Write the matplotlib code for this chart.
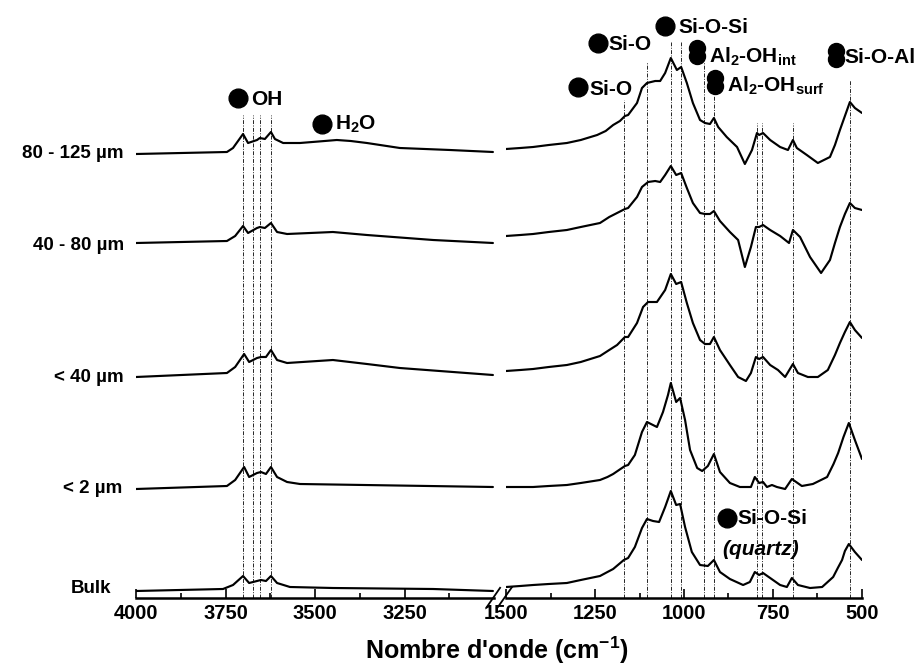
import matplotlib
matplotlib.use('Agg')
import matplotlib.pyplot as plt
import matplotlib.transforms as mtransforms

plt.rcParams['font.family'] = ['Liberation Sans', 'DejaVu Sans']
plt.rcParams['font.weight'] = 'bold'
plt.rcParams['mathtext.fontset'] = 'custom'
plt.rcParams['mathtext.rm'] = 'Liberation Sans:bold'
plt.rcParams['mathtext.it'] = 'Liberation Sans:bold:italic'
plt.rcParams['mathtext.bf'] = 'Liberation Sans:bold'
plt.rcParams['mathtext.sf'] = 'Liberation Sans:bold'

# ---------------- data ----------------
samples = ['80 - 125 µm', '40 - 80 µm', '< 40 µm', '< 2 µm', 'Bulk']
offsets = [444, 355, 221, 109, 7]

# 80 - 125 um
s1_hi_wn = [4000, 3746, 3729, 3701, 3687, 3662, 3654, 3640, 3623, 3612, 3589, 3542, 3490, 3439, 3400, 3355, 3263,
            3123, 3003]
s1_hi_ab = [0, 2, 6, 20, 11, 14, 16, 15, 22, 15, 11, 11, 12.5, 14, 13, 11, 6, 4, 2]
s1_lo_wn = [1500, 1460, 1424, 1380, 1329, 1290, 1244, 1220, 1199, 1180, 1166, 1157, 1132, 1118, 1104, 1081, 1067,
            1053, 1037, 1020, 1008, 992, 975, 955, 941, 927, 916, 904, 880, 851, 829, 809, 795, 789, 778, 758, 730,
            708, 694, 683, 655, 624, 590, 576, 562, 548, 534, 520, 500]
s1_lo_ab = [5, 6, 7, 9, 11, 14, 19, 23, 29, 33, 38, 39, 51, 66, 71, 73, 73, 81, 96, 84, 87, 71, 51, 34, 31, 30, 36,
            27, 17, 7, -10, 4, 21, 19, 21, 14, 7, 4, 14, 6, -1, -9, -3, 9, 24, 38, 52, 46, 41]

# 40 - 80 um
s2_hi_wn = [4000, 3746, 3723, 3701, 3687, 3662, 3654, 3640, 3623, 3606, 3578, 3450, 3355, 3170, 3003]
s2_hi_ab = [0, 2, 7, 17, 10, 15, 16, 15, 20, 11, 9, 11, 8, 3, 0]
s2_lo_wn = [1500, 1460, 1424, 1380, 1329, 1290, 1236, 1210, 1188, 1166, 1157, 1132, 1118, 1101, 1081, 1067, 1053,
            1037, 1022, 1008, 992, 975, 955, 941, 927, 916, 899, 871, 848, 829, 812, 798, 789, 778, 758, 730, 705,
            694, 674, 646, 615, 590, 576, 562, 548, 534, 520, 500]
s2_lo_ab = [7, 8, 9, 11, 13, 16, 20, 26, 30, 34, 35, 46, 56, 61, 62, 61, 68, 77, 68, 70, 55, 40, 30, 29, 29, 32, 22,
            11, 3, -24, -4, 16, 16, 18, 13, 7, 0, 13, 6, -14, -30, -17, 0, 16, 29, 40, 35, 33]

# < 40 um
s3_hi_wn = [4000, 3746, 3723, 3698, 3684, 3662, 3651, 3637, 3623, 3606, 3578, 3450, 3355, 3263, 3003]
s3_hi_ab = [0, 4, 10, 23, 15, 19, 20, 20, 27, 17, 14, 17, 13, 9, 2]
s3_lo_wn = [1500, 1460, 1424, 1380, 1329, 1290, 1236, 1210, 1188, 1166, 1157, 1132, 1115, 1101, 1076, 1053, 1037,
            1022, 1008, 992, 975, 955, 941, 927, 916, 899, 871, 848, 826, 812, 798, 789, 778, 758, 736, 716, 694,
            680, 652, 624, 596, 576, 562, 548, 534, 520, 500]
s3_lo_ab = [6, 7, 8, 10, 12, 15, 21, 27, 32, 40, 40, 54, 70, 75, 75, 87, 103, 93, 95, 74, 54, 37, 33, 33, 40, 27, 12,
            0, -4, 4, 20, 18, 20, 12, 7, 0, 13, 4, 0, 0, 7, 22, 34, 45, 55, 47, 39]

# < 2 um
s4_hi_wn = [4000, 3746, 3723, 3698, 3684, 3662, 3651, 3637, 3623, 3606, 3578, 3542, 3003]
s4_hi_ab = [0, 3, 9, 22, 12, 16, 17, 15, 22, 12, 7, 5, 2]
s4_lo_wn = [1500, 1460, 1424, 1380, 1329, 1290, 1236, 1215, 1199, 1166, 1157, 1138, 1118, 1104, 1076, 1059, 1045,
            1037, 1022, 1011, 997, 983, 963, 949, 933, 916, 899, 871, 843, 812, 801, 789, 778, 767, 753, 739, 716,
            697, 669, 638, 598, 580, 567, 552, 537, 520, 500]
s4_lo_ab = [2, 2, 2, 3, 4, 6, 9, 12, 15, 23, 24, 34, 57, 67, 62, 77, 94, 106, 87, 91, 69, 39, 21, 18, 23, 35, 17, 6,
            2, 2, 12, 6, 7, 2, 4, 2, 0, 10, 3, 5, 12, 25, 36, 52, 66, 49, 30]

# Bulk
s5_hi_wn = [4000, 3757, 3729, 3701, 3684, 3662, 3651, 3637, 3623, 3606, 3570, 3450, 3170, 3003]
s5_hi_ab = [0, 2, 6, 15, 8, 10, 11, 10, 15, 8, 4, 3, 2, 0]
s5_lo_wn = [1500, 1460, 1424, 1380, 1329, 1290, 1236, 1215, 1199, 1169, 1157, 1138, 1118, 1104, 1087, 1070, 1053,
            1037, 1022, 1011, 997, 978, 955, 933, 916, 899, 871, 834, 815, 801, 789, 778, 758, 730, 711, 697, 680,
            646, 612, 581, 568, 556, 548, 537, 520, 500]
s5_lo_ab = [4, 5, 6, 7, 8, 11, 15, 19, 22, 31, 33, 44, 63, 72, 70, 69, 84, 100, 86, 87, 64, 39, 26, 25, 31, 19, 12,
            6, 9, 19, 16, 18, 13, 6, 4, 13, 6, 3, 4, 14, 23, 31, 40, 47, 39, 31]

hi_wn = [s1_hi_wn, s2_hi_wn, s3_hi_wn, s4_hi_wn, s5_hi_wn]
hi_ab = [s1_hi_ab, s2_hi_ab, s3_hi_ab, s4_hi_ab, s5_hi_ab]
lo_wn = [s1_lo_wn, s2_lo_wn, s3_lo_wn, s4_lo_wn, s5_lo_wn]
lo_ab = [s1_lo_ab, s2_lo_ab, s3_lo_ab, s4_lo_ab, s5_lo_ab]

# band positions (cm-1) and heights of the guide lines
oh_bands = [3700, 3672, 3655, 3622]
oh_tops = [483, 483, 483, 483]
lo_bands = [1169, 1104, 1037, 1009, 944, 916, 795, 781, 694, 534]
lo_tops = [498, 536, 556, 556, 536, 503, 475, 475, 475, 518]

hi_ticks = [4000, 3750, 3500, 3250]
hi_minor = [3875, 3625, 3375, 3125]
lo_ticks = [1500, 1250, 1000, 750, 500]
lo_minor = [1375, 1125, 875, 625]

# ---------------- figure ----------------
W, H = 920, 666
fig = plt.figure(figsize=(W / 100, H / 100), dpi=100)
ax1 = fig.add_axes([136 / W, 68 / H, 358 / W, 598 / H])
ax2 = fig.add_axes([506 / W, 68 / H, 356 / W, 598 / H])

for ax, lim, maj, mnr in [(ax1, (4000, 3000), hi_ticks, hi_minor), (ax2, (1500, 500), lo_ticks, lo_minor)]:
    ax.set_xlim(*lim)
    ax.set_ylim(0, 598)
    ax.patch.set_alpha(0)
    for s in ['left', 'right', 'top']:
        ax.spines[s].set_visible(False)
    ax.spines['bottom'].set_linewidth(1.8)
    ax.set_yticks([])
    ax.set_xticks(maj)
    ax.set_xticks(mnr, minor=True)
    ax.tick_params(axis='x', which='major', direction='in', length=6.5, width=1.2, labelsize=14.5, pad=4)
    ax.tick_params(axis='x', which='minor', direction='in', length=3.6, width=1.2)
    for lab in ax.get_xticklabels():
        lab.set_fontweight('bold')

guide = dict(color='0.15', lw=0.7, linestyle=(0, (4, 1.5, 1, 1.5)), zorder=1)
for b, t in zip(oh_bands, oh_tops):
    ax1.plot([b, b], [0, t], **guide)
for b, t in zip(lo_bands, lo_tops):
    ax2.plot([b, b], [0, t], **guide)

for i in range(len(samples)):
    ax1.plot(hi_wn[i], [v + offsets[i] for v in hi_ab[i]], color='black', lw=1.55, zorder=3,
             solid_joinstyle='round', solid_capstyle='round')
    ax2.plot(lo_wn[i], [v + offsets[i] for v in lo_ab[i]], color='black', lw=1.55, zorder=3,
             solid_joinstyle='round', solid_capstyle='round')

# sample labels
ltrans = mtransforms.blended_transform_factory(fig.transFigure, ax1.transData)
label_x = [124, 124, 124, 122, 111]
label_base = [440, 348, 216, 105, 5]
for name, lx, ly in zip(samples, label_x, label_base):
    fig.text(lx / W, ly, name, transform=ltrans, ha='right', va='baseline', fontsize=13.5, fontweight='bold')

# break marks
bk = dict(color='black', lw=1.3, transform=ax1.transAxes, clip_on=False)
ax1.plot([0.980, 1.017], [-0.015, 0.017], **bk)
ax1.plot([1.011, 1.050], [-0.015, 0.018], **bk)

fig.text(497 / W, (H - 659) / H, "Nombre d'onde (cm$^{-1}$)", ha='center', va='baseline',
         fontsize=18, fontweight='bold')

# annotations (bullet + text)
def bullet(ax, x, y, double=False):
    if double:
        ax.plot([x], [y + 4], 'o', ms=11.5, color='black', clip_on=False, zorder=5)
        ax.plot([x], [y - 4], 'o', ms=11.5, color='black', clip_on=False, zorder=5)
    else:
        ax.plot([x], [y], 'o', ms=13.5, color='black', clip_on=False, zorder=5)

afs = 15
bullet(ax1, 3715, 500)
ax1.text(3679, 493, 'OH', fontsize=afs, fontweight='bold', va='baseline')
bullet(ax1, 3480, 474)
ax1.text(3444, 468, 'H$_2$O', fontsize=afs, fontweight='bold', va='baseline')

bullet(ax2, 1242, 555)
ax2.text(1213, 548, 'Si-O', fontsize=afs, fontweight='bold', va='baseline')
bullet(ax2, 1298, 511)
ax2.text(1267, 503, 'Si-O', fontsize=afs, fontweight='bold', va='baseline')
bullet(ax2, 1053, 572)
ax2.text(1017, 565, 'Si-O-Si', fontsize=afs, fontweight='bold', va='baseline')
bullet(ax2, 963, 546, double=True)
ax2.text(930, 535, 'Al$_2$-OH$_{\\mathrm{int}}$', fontsize=afs, fontweight='bold', va='baseline')
bullet(ax2, 913, 516, double=True)
ax2.text(879, 506, 'Al$_2$-OH$_{\\mathrm{surf}}$', fontsize=afs, fontweight='bold', va='baseline')
bullet(ax2, 573, 543, double=True)
ax2.text(548, 535, 'Si-O-Al', fontsize=afs, fontweight='bold', va='baseline', clip_on=False)
bullet(ax2, 879, 80)
ax2.text(851, 74, 'Si-O-Si', fontsize=afs, fontweight='bold', va='baseline')
ax2.text(893, 43, '(quartz)', fontsize=afs, fontweight='bold', fontstyle='italic', va='baseline')

fig.savefig('out.png', dpi=100)
